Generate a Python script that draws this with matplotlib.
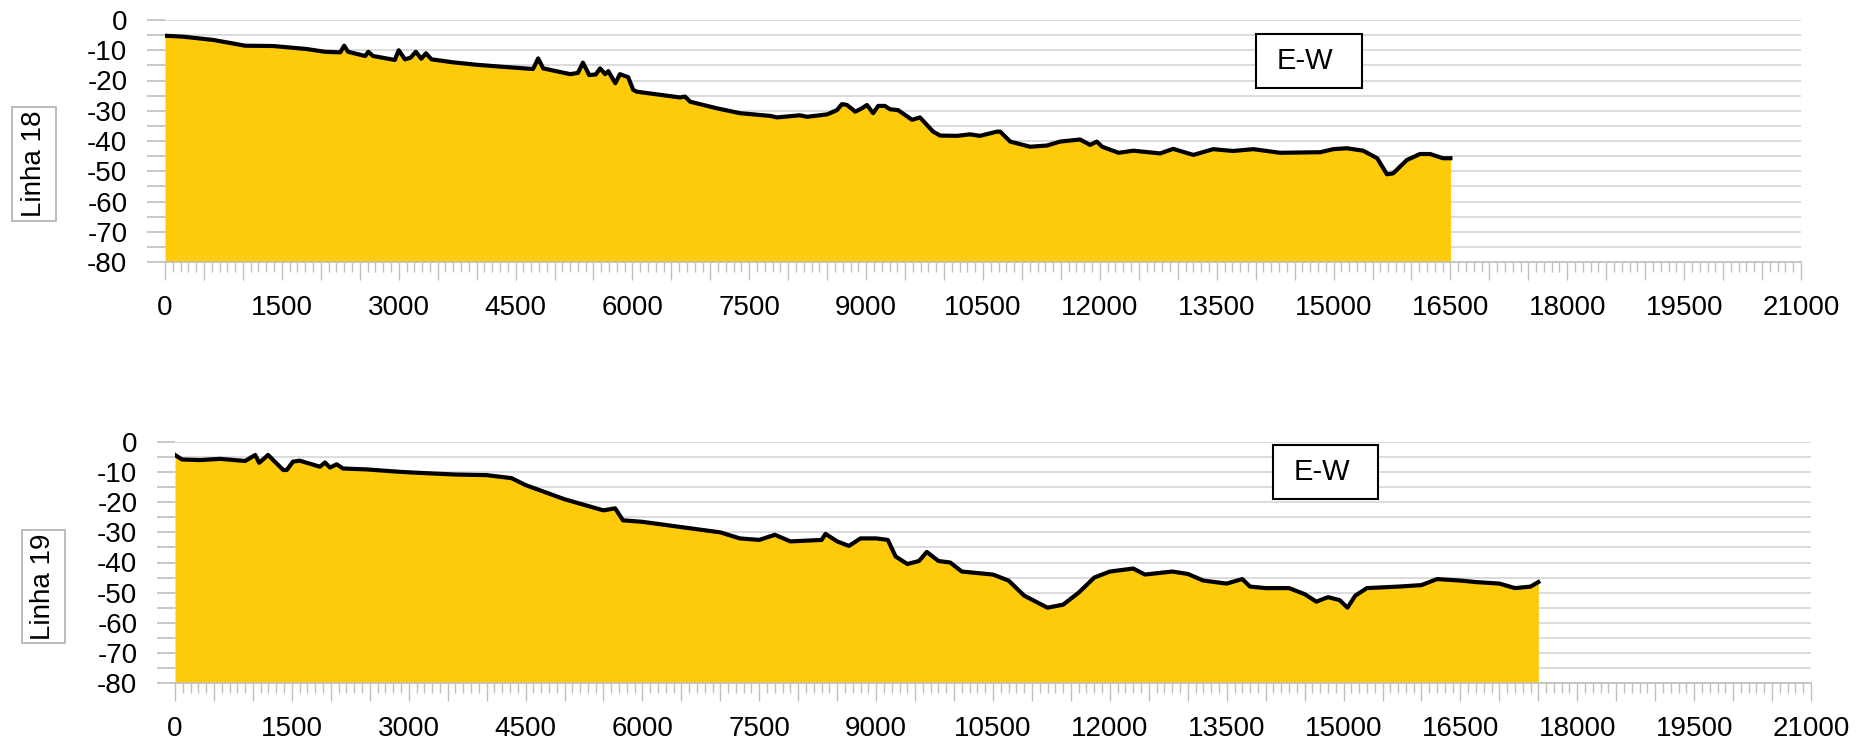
import matplotlib
matplotlib.use("Agg")
import matplotlib.pyplot as plt
from matplotlib.patches import Rectangle
from matplotlib.ticker import MultipleLocator, FuncFormatter

plt.rcParams['font.family'] = ['Liberation Sans', 'DejaVu Sans']
plt.rcParams['axes.unicode_minus'] = False

# perfil batimetrico - linha 18 (distancia em m, profundidade em m)
x18 = [0, 230, 620, 1030, 1390, 1820, 2050, 2250, 2300, 2350, 2570, 2610, 2670, 2950,
       3000, 3080, 3150, 3220, 3290, 3350, 3420, 3700, 4000, 4300, 4724, 4790, 4855,
       5200, 5300, 5365, 5445, 5530, 5585, 5650, 5690, 5780, 5840, 5945, 6010, 6055,
       6610, 6675, 6740, 7085, 7380, 7766, 7855, 8150, 8240, 8500, 8625, 8690, 8755,
       8860, 8945, 9010, 9090, 9155, 9240, 9305, 9410, 9590, 9690, 9860, 9950, 10165,
       10335, 10460, 10680, 10720, 10850, 11105, 11320, 11490, 11745, 11875, 11960,
       12030, 12240, 12430, 12775, 12940, 13200, 13455, 13710, 13970, 14315, 14830,
       14995, 15170, 15380, 15560, 15685, 15765, 15940, 16110, 16240, 16405, 16500]
z18 = [-5.2, -5.5, -6.6, -8.5, -8.6, -9.6, -10.5, -10.7, -8.5, -10.5, -11.9, -10.5,
       -11.9, -13.2, -10.0, -13.0, -12.5, -10.5, -12.8, -11.0, -13.0, -14.0, -14.8,
       -15.4, -16.2, -12.7, -16.0, -17.9, -17.5, -14.1, -18.2, -18.0, -16.0, -17.9,
       -16.9, -20.9, -17.9, -18.9, -23.1, -23.7, -25.6, -25.3, -27.0, -29.2, -30.8,
       -31.7, -32.2, -31.5, -32.0, -31.2, -29.8, -27.8, -28.1, -30.3, -29.2, -28.1,
       -30.8, -28.4, -28.4, -29.5, -29.8, -33.0, -32.2, -36.9, -38.2, -38.3, -37.8,
       -38.3, -36.9, -36.9, -40.2, -41.9, -41.5, -40.2, -39.5, -41.3, -40.2, -41.9,
       -43.9, -43.2, -44.1, -42.6, -44.6, -42.7, -43.3, -42.7, -43.9, -43.7, -42.7,
       -42.4, -43.2, -45.7, -51.0, -50.7, -46.3, -44.3, -44.3, -45.7, -45.7]

# perfil batimetrico - linha 19
x19 = [0, 90, 320, 580, 900, 1030, 1080, 1130, 1195, 1280, 1390, 1435, 1515, 1600,
       1860, 1925, 1990, 2075, 2155, 2460, 2885, 3100, 3600, 4000, 4320, 4500, 5000,
       5500, 5650, 5750, 6000, 7000, 7250, 7500, 7700, 7900, 8300, 8350, 8500, 8650,
       8800, 9000, 9150, 9250, 9400, 9550, 9650, 9800, 9950, 10100, 10500, 10700,
       10900, 11200, 11400, 11600, 11800, 12000, 12300, 12450, 12800, 13000, 13200,
       13500, 13700, 13800, 14000, 14300, 14500, 14650, 14800, 14950, 15050, 15150,
       15300, 15700, 16000, 16200, 16500, 16700, 17000, 17200, 17400, 17500]
z19 = [-4.3, -5.8, -6.0, -5.6, -6.3, -4.3, -6.9, -5.8, -4.3, -6.5, -9.3, -9.3, -6.5,
       -6.2, -8.2, -6.8, -8.5, -7.4, -8.8, -9.1, -9.9, -10.2, -10.8, -11.0, -12.0,
       -14.3, -19.0, -22.7, -22.0, -26.0, -26.5, -30.0, -32.0, -32.5, -30.8, -33.0,
       -32.5, -30.5, -33.0, -34.5, -32.0, -32.0, -32.5, -38.0, -40.5, -39.5, -36.5,
       -39.5, -40.0, -43.0, -44.0, -46.0, -51.0, -55.0, -54.0, -50.0, -45.0, -43.0,
       -42.0, -44.0, -43.0, -43.8, -46.0, -47.0, -45.5, -48.0, -48.5, -48.5, -50.5,
       -53.0, -51.5, -52.5, -55.0, -51.0, -48.5, -48.0, -47.5, -45.5, -46.0, -46.5,
       -47.0, -48.5, -48.0, -46.5]

linhas = ['Linha 18', 'Linha 19']
direcao = 'E-W'

W, H = 1865, 749
fig = plt.figure(figsize=(W / 100, H / 100), dpi=100)

# posicoes em pixels: (esquerda, topo, direita, base)
ax_px = [(165, 20, 1801, 262), (175, 442, 1811, 683)]
caixa_ew = [(1256, 34, 1362, 88), (1273, 445, 1378, 499)]
caixa_linha = [(12, 107, 56, 221), (22, 530, 65, 643)]

grid_cor = '#d9d9d9'
eixo_cor = '#bfbfbf'
amarelo = '#fdcb0a'


def px_rect(l, t, r, b):
    return [l / W, 1 - b / H, (r - l) / W, (b - t) / H]


perfis = [(x18, z18), (x19, z19)]
for i, (x, z) in enumerate(perfis):
    ax = fig.add_axes(px_rect(*ax_px[i]))
    ax.fill_between(x, z, -80, color=amarelo, lw=0, zorder=2)
    ax.plot(x, z, color='black', lw=3.0, zorder=3, solid_joinstyle='round')

    ax.set_xlim(0, 21000)
    ax.set_ylim(-80, 0)

    ax.xaxis.set_major_locator(MultipleLocator(500))
    ax.xaxis.set_minor_locator(MultipleLocator(100))
    ax.xaxis.set_major_formatter(FuncFormatter(
        lambda v, p: f'{int(round(v))}' if round(v) % 1500 == 0 else ''))
    ax.yaxis.set_major_locator(MultipleLocator(10))
    ax.yaxis.set_minor_locator(MultipleLocator(5))

    ax.grid(True, which='both', axis='y', color=grid_cor, lw=1.3, zorder=0)
    ax.set_axisbelow(True)

    for s in ['top', 'right', 'left']:
        ax.spines[s].set_visible(False)
    ax.spines['bottom'].set_color(eixo_cor)
    ax.spines['bottom'].set_linewidth(1.2)

    ax.tick_params(axis='x', which='major', length=13, width=1, color=eixo_cor,
                   labelsize=20, pad=11)
    ax.tick_params(axis='x', which='minor', length=7, width=1, color=eixo_cor)
    ax.tick_params(axis='y', which='major', length=13, width=1.2, color=eixo_cor,
                   labelsize=20, pad=14)
    ax.tick_params(axis='y', which='minor', length=13, width=1.2, color=eixo_cor)

    # caixa de direcao
    l, t, r, b = caixa_ew[i]
    fig.add_artist(Rectangle((l / W, 1 - b / H), (r - l) / W, (b - t) / H,
                             transform=fig.transFigure, facecolor='white',
                             edgecolor='black', lw=1.5, zorder=5))
    fig.text((l + r) / 2 / W - 4 / W, 1 - (t + b) / 2 / H, direcao, fontsize=21,
             ha='center', va='center', zorder=6)

    # rotulo da linha
    l, t, r, b = caixa_linha[i]
    fig.add_artist(Rectangle((l / W, 1 - b / H), (r - l) / W, (b - t) / H,
                             transform=fig.transFigure, facecolor='white',
                             edgecolor='#b0b0b0', lw=1.2))
    fig.text((l + r) / 2 / W, 1 - (t + b) / 2 / H, linhas[i], fontsize=20,
             rotation=90, ha='center', va='center')

fig.savefig('out.png', dpi=100, facecolor='white')
